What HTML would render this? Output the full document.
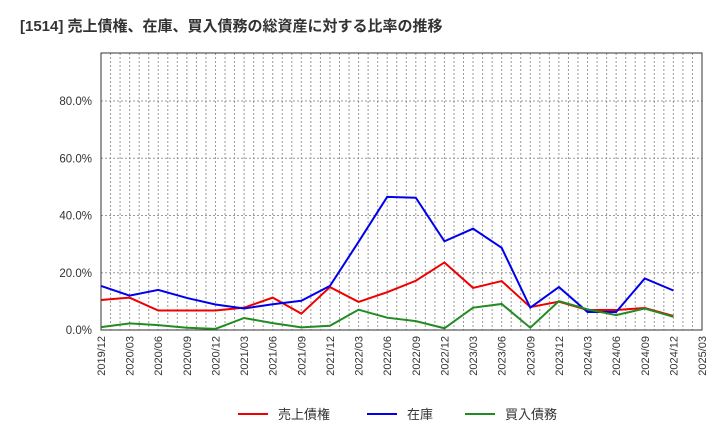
<!DOCTYPE html>
<html><head><meta charset="utf-8"><style>
body{margin:0;background:#fff}
svg{display:block;font-family:"Liberation Sans","Noto Sans CJK JP",sans-serif}
</style></head><body>
<svg id="chart" width="720" height="440">
<text x="20" y="31" font-size="15" font-weight="bold" fill="#333">[1514]  売上債権、在庫、買入債務の総資産に対する比率の推移</text>
<g id="grid"></g><g id="axes"></g><g id="series"></g><g id="legend"></g>
</svg>
<script>
const categories=["2019/12","2020/03","2020/06","2020/09","2020/12","2021/03","2021/06","2021/09","2021/12","2022/03","2022/06","2022/09","2022/12","2023/03","2023/06","2023/09","2023/12","2024/03","2024/06","2024/09","2024/12"];
const xTickLabels=["2019/12","2020/03","2020/06","2020/09","2020/12","2021/03","2021/06","2021/09","2021/12","2022/03","2022/06","2022/09","2022/12","2023/03","2023/06","2023/09","2023/12","2024/03","2024/06","2024/09","2024/12","2025/03"];
const receivables=[10.5,11.3,6.8,6.8,6.8,7.8,11.3,5.7,15,9.8,13.2,17.2,23.6,14.7,17.1,8,9.9,7,7,7.7,4.9];
const inventory=[15.4,12,14,11.2,8.9,7.5,9,10.2,15.4,30.8,46.5,46.2,31,35.4,28.7,7.8,15,6.3,6.3,18,13.8];
const payables=[1,2.3,1.7,0.8,0.4,4.2,2.4,0.9,1.5,7.1,4.3,3.1,0.6,7.8,9.1,0.8,10.1,7.2,5.2,7.5,4.6];
const yTicks=[0,20,40,60,80];
const yTickLabels=["0.0%","20.0%","40.0%","60.0%","80.0%"];
const seriesNames=["売上債権","在庫","買入債務"];
const NS="http://www.w3.org/2000/svg";
const L=101,R=702,T=53,B=330,step=(R-L)/21;
const xs=i=>L+i*step;
const ys=v=>B-v*(B-101)/80;
function mk(tag,attrs,parent){const e=document.createElementNS(NS,tag);for(const k in attrs)e.setAttribute(k,attrs[k]);parent.appendChild(e);return e;}
const grid=document.getElementById('grid'),axes=document.getElementById('axes'),ser=document.getElementById('series'),leg=document.getElementById('legend');
for(let m=1;m<63;m++){const x=L+m*step/3;const g=mk('line',{x1:x,x2:x,y1:T,y2:B,stroke:'#999','stroke-width':1,'stroke-dasharray':'2,2'},grid);

}
yTicks.forEach((v,i)=>{if(v>0){const g=mk('line',{x1:L,x2:R,y1:ys(v),y2:ys(v),stroke:'#999','stroke-width':1,'stroke-dasharray':'2,2'},grid);

}
const t=mk('text',{x:92,y:ys(v)+4,'text-anchor':'end','font-size':11.5,fill:'#333'},axes);t.textContent=yTickLabels[i];

});
const fr=mk('rect',{x:L,y:T,width:R-L,height:B-T,fill:'none',stroke:'#333','stroke-width':1},axes);


xTickLabels.forEach((c,i)=>{const x=xs(i);const t=mk('text',{x:x+4,y:B+6,'text-anchor':'end','font-size':11,fill:'#333',transform:`rotate(-90 ${x+4} ${B+6})`},axes);t.textContent=c;

});
const colors=['#ee0000','#0000ee','#228b22'];
[receivables,inventory,payables].forEach((d,k)=>{const p=mk('polyline',{points:d.map((v,i)=>xs(i)+','+ys(v)).join(' '),fill:'none',stroke:colors[k],'stroke-width':2},ser);

});
const lx=[238,367,465];
seriesNames.forEach((n,k)=>{const g=mk('g',{},leg);


mk('line',{x1:lx[k],x2:lx[k]+30,y1:414,y2:414,stroke:colors[k],'stroke-width':2},g);
const t=mk('text',{x:lx[k]+40,y:419,'font-size':13,fill:'#333'},g);t.textContent=n;});
</script>
</body></html>
